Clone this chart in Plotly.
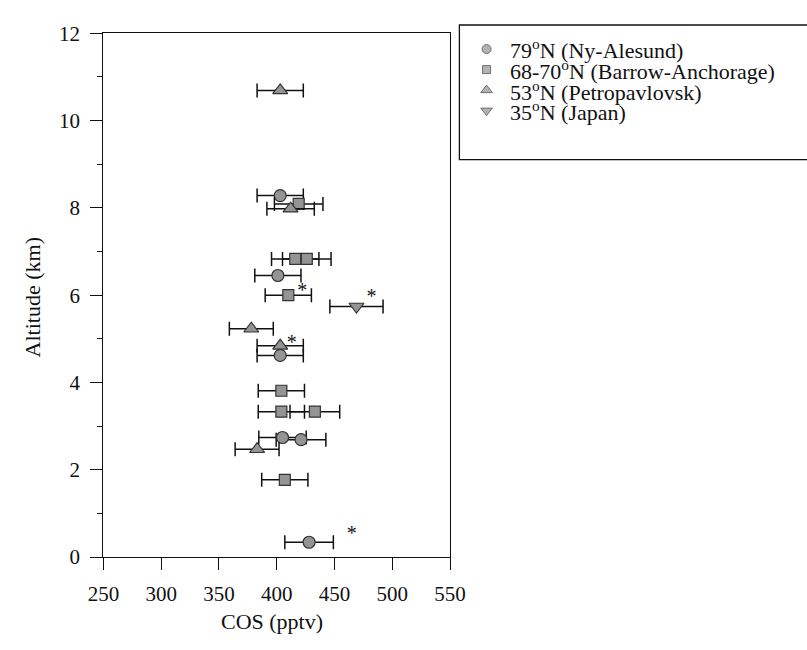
import plotly.graph_objects as go

# ---- data ----
series_names = ["79<sup>o</sup>N (Ny-Alesund)", "68-70<sup>o</sup>N (Barrow-Anchorage)",
                "53<sup>o</sup>N (Petropavlovsk)", "35<sup>o</sup>N (Japan)"]

ny_cos = [428, 405, 421, 403, 401, 403]
ny_alt = [0.34, 2.74, 2.69, 4.62, 6.45, 8.28]
ny_err = [21, 20.5, 21.5, 20, 20, 20]

ba_cos = [407, 404, 433, 404, 410, 416, 426, 419]
ba_alt = [1.77, 3.33, 3.33, 3.81, 6.00, 6.83, 6.83, 8.09]
ba_err = [20, 20, 21.5, 20, 20, 20.5, 21, 21]

pe_cos = [383, 403, 378, 412, 403]
pe_alt = [2.47, 4.84, 5.23, 7.98, 10.69]
pe_err = [19, 20, 19, 20.5, 20]

jp_cos = [469]
jp_alt = [5.74]
jp_err = [23]

star_cos = [422, 482, 413, 465]
star_alt = [6.07, 5.94, 4.88, 0.51]

x_ticks = [250, 300, 350, 400, 450, 500, 550]
y_ticks = [0, 2, 4, 6, 8, 10, 12]

# ---- styling ----
W, H = 807, 650
FONT = "Liberation Serif, Times New Roman, serif"
FILL = "#949494"
EDGE = "#333333"
INK = "#111111"

def px_x(p):
    return p / W

def px_y(p):
    return (H - p) / H

symbols = ["circle", "square", "triangle-up", "triangle-down"]
sizes = [12, 11, 13, 13]
legend_sizes = [9, 8, 10, 10]

fig = go.Figure()

for cos, alt, err, sym, sz in [
    (ny_cos, ny_alt, ny_err, symbols[0], sizes[0]),
    (ba_cos, ba_alt, ba_err, symbols[1], sizes[1]),
    (pe_cos, pe_alt, pe_err, symbols[2], sizes[2]),
    (jp_cos, jp_alt, jp_err, symbols[3], sizes[3]),
]:
    fig.add_trace(go.Scatter(
        x=cos, y=alt, mode="markers",
        marker=dict(symbol=sym, size=sz, color=FILL, line=dict(color=EDGE, width=1.2)),
        error_x=dict(type="data", array=err, visible=True, color=INK, thickness=1.5, width=7),
        showlegend=False, xaxis="x", yaxis="y",
    ))

fig.add_trace(go.Scatter(
    x=star_cos, y=star_alt, mode="text", text=["*"] * len(star_cos),
    textfont=dict(family=FONT, size=20, color=INK), textposition="middle center",
    showlegend=False, xaxis="x", yaxis="y",
))

# custom legend markers on an overlay axis
fig.add_trace(go.Scatter(
    x=[0, 0, 0, 0], y=[0, 1, 2, 3], mode="markers",
    marker=dict(symbol=symbols, size=legend_sizes, color=FILL, line=dict(color=EDGE, width=1)),
    showlegend=False, xaxis="x2", yaxis="y2", hoverinfo="skip",
))

# legend texts
row_px = [38.5, 60.5, 82.0, 103.0]
for name, ry in zip(series_names, row_px):
    fig.add_annotation(xref="paper", yref="paper", x=px_x(512), y=px_y(ry),
                       xanchor="left", yanchor="middle", showarrow=False,
                       text=name, font=dict(family=FONT, size=22, color=INK))

# legend box
fig.add_shape(type="rect", xref="paper", yref="paper",
              x0=px_x(461.7), x1=px_x(830), y0=px_y(153.3), y1=px_y(13.5),
              line=dict(color=INK, width=1.3), fillcolor="rgba(0,0,0,0)")

# axis titles
fig.add_annotation(xref="paper", yref="paper", x=px_x(267), y=px_y(633),
                   xanchor="center", yanchor="middle", showarrow=False,
                   text="COS (pptv)", font=dict(family=FONT, size=22, color=INK))
fig.add_annotation(xref="paper", yref="paper", x=px_x(17), y=px_y(296),
                   xanchor="center", yanchor="middle", showarrow=False, textangle=-90,
                   text="Altitude (km)", font=dict(family=FONT, size=22, color=INK))

axis_common = dict(showgrid=False, zeroline=False, showline=True, linecolor=INK, linewidth=1.3,
                   mirror=True, ticks="outside", tickcolor=INK, tickwidth=1.3, ticklen=12,
                   tickfont=dict(family=FONT, size=21, color=INK))

fig.update_layout(
    width=W, height=H,
    margin=dict(l=0, r=0, t=0, b=0),
    paper_bgcolor="white", plot_bgcolor="white",
    showlegend=False,
    xaxis=dict(domain=[91 / W, 452 / W], range=[250, 550], tickvals=x_ticks,
               ticklabelstandoff=6, anchor="y", **axis_common),
    yaxis=dict(domain=[px_y(566), px_y(22)], range=[0, 12], tickvals=y_ticks,
               ticklabelstandoff=6, anchor="x",
               minor=dict(dtick=1, ticks="outside", ticklen=5, tickcolor=INK, tickwidth=1.3),
               **axis_common),
    xaxis2=dict(domain=[480 / W, 500 / W], range=[-1, 1], visible=False, anchor="y2",
                fixedrange=True),
    yaxis2=dict(domain=[px_y(113.05), px_y(27.85)], range=[3.5, -0.5], visible=False,
                anchor="x2", fixedrange=True),
)

fig.write_html("out.html")
